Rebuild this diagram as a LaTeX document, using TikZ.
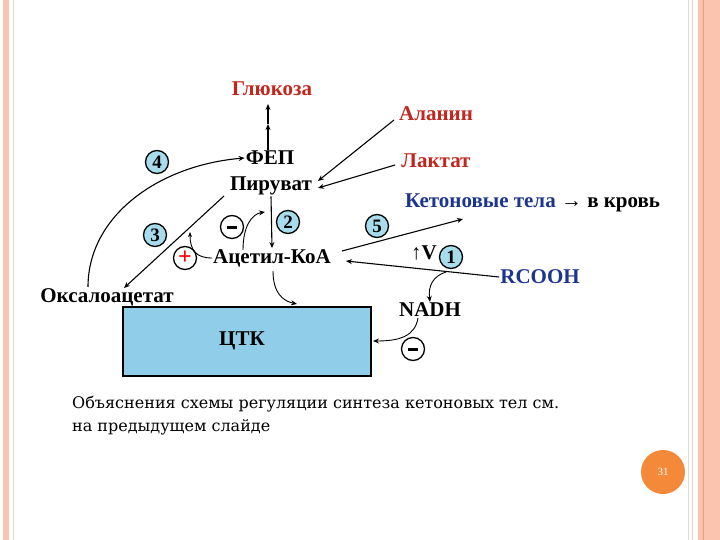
\documentclass[tikz,border=0pt]{standalone}
\usepackage{fontspec}
\setmainfont{Liberation Serif}
\newfontfamily\capfont{DejaVu Serif}
\usetikzlibrary{arrows.meta}
\definecolor{redtxt}{HTML}{C3261C}
\definecolor{bluetxt}{HTML}{1C3690}
\definecolor{numfill}{HTML}{A6DCEB}
\definecolor{boxfill}{HTML}{8FCDE8}
\definecolor{salmon}{HTML}{FBC4AE}
\definecolor{salmondark}{HTML}{F29C7E}
\definecolor{pagenum}{HTML}{F5893A}
\definecolor{thinline}{HTML}{E8D6C8}
\begin{document}
\begin{tikzpicture}[x=1pt,y=-1pt,
  lbl/.style={font=\bfseries\fontsize{21}{21}\selectfont, inner sep=1pt},
  num/.style={circle, draw, line width=1.3pt, fill=numfill, minimum size=23pt, inner sep=0pt, font=\bfseries\fontsize{19}{19}\selectfont},
  sgn/.style={circle, draw, line width=1.3pt, fill=white, minimum size=23pt, inner sep=0pt},
  arr/.style={-{Stealth[length=6pt,width=5pt]}, line width=1.1pt},
  capt/.style={anchor=west, inner sep=0pt, font=\capfont\fontsize{16}{16}\selectfont}
]
\useasboundingbox (0,0) rectangle (720,540);
\fill[white] (0,0) rectangle (720,540);
% borders
\fill[salmon] (3,0) rectangle (9,540);
\draw[thinline, line width=0.8pt] (13.5,0) -- (13.5,540);
\draw[thinline, line width=0.8pt] (688,0) -- (688,540);
\draw[thinline, line width=0.8pt] (692,0) -- (692,540);
\fill[salmon] (698,0) rectangle (720,540);
\draw[salmondark, line width=1pt] (703,0) -- (703,540);

% nodes
\node[lbl, text=redtxt] (glu) at (272,89) {Глюкоза};
\node[lbl, text=redtxt] (ala) at (436,114) {Аланин};
\node[lbl] (fep) at (270,158) {ФЕП};
\node[lbl, text=redtxt] (lak) at (436,161) {Лактат};
\node[lbl] (pir) at (271,186) {Пируват};
\node[lbl, anchor=west] (ket) at (404,203) {\textcolor{bluetxt}{Кетоновые тела} → в кровь};
\node[lbl] (acetyl) at (272,258) {Ацетил-КоА};
\node[lbl, text=bluetxt] (rcooh) at (540,277) {RCOOH};
\node[lbl] (oxa) at (107,297) {Оксалоацетат};
\node[lbl] (nadh) at (430,310) {NADH};
\node[draw, line width=2pt, fill=boxfill, minimum width=248pt, minimum height=69pt, anchor=north west, inner sep=0pt] (tca) at (122,306) {};
\node[lbl] (tcat) at (242,341) {ЦТК};

\node[num] (n4) at (157,162) {4};
\node[num] (n3) at (155,235) {3};
\node[sgn] (m1) at (232,227) {\rule{10pt}{3pt}};
\node[num] (n2) at (288,222) {2};
\node[num] (n5) at (377,226) {5};
\node[lbl] (upv) at (424,253) {↑V};
\node[num] (n1) at (451,257) {1};
\node[sgn] (p1) at (185,258) {\textcolor{red}{\bfseries\fontsize{24}{24}\selectfont +}};
\node[sgn] (m2) at (413,349) {\rule{10pt}{3pt}};

% helper coordinates
\coordinate (gmid) at (268,124);
\coordinate (gtop) at (268,104);
\coordinate (o4) at (88,287);
\coordinate (p3) at (224,196);
\coordinate (o3) at (124,288);
\coordinate (on3) at (190,232);
\coordinate (mstart) at (243,250);
\coordinate (mend) at (265,212);
\coordinate (ala1) at (394,120);
\coordinate (pirA) at (318,181);
\coordinate (lak1) at (395,165);
\coordinate (pirL) at (318,188);
\coordinate (a5) at (342,251);
\coordinate (k5) at (463,219);
\coordinate (a1) at (346,261);
\coordinate (br) at (446,272);
\coordinate (a6) at (273,271);
\coordinate (t6) at (297,304);
\coordinate (nd) at (418,318);
\coordinate (te) at (373,341);

% connectors
\draw[arr] (fep.north -| gmid) -- (gmid);
\draw[arr] (gmid) -- (gtop);
\draw[arr] (o4) .. controls (88,215) and (160,165) .. (fep.west);
\draw[arr] (p3) -- (o3);
\draw[arr, line width=0.9pt, -{Stealth[length=5pt,width=4pt]}] (acetyl.west) .. controls (196,258) and (190,250) .. (on3);
\draw[arr] (pir.south) -- (acetyl.north);
\draw[arr, line width=0.9pt] (mstart) .. controls (243,226) and (252,214) .. (mend);
\draw[arr] (ala1) -- (pirA);
\draw[arr] (lak1) -- (pirL);
\draw[arr] (a5) -- (k5);
\draw[arr] (rcooh.west) -- (a1);
\draw[arr, line width=0.9pt] (br) .. controls (433,276) and (428,286) .. (nadh.north);
\draw[arr, line width=0.9pt] (a6) .. controls (273,293) and (283,301) .. (t6);
\draw[arr, line width=0.9pt] (nd) .. controls (415,336) and (400,341) .. (te);

% caption
\node[capt] (cap1) at (72,404) {Объяснения схемы регуляции синтеза кетоновых тел см.};
\node[capt] (cap2) at (72,427) {на предыдущем слайде};

% page number
\node[circle, fill=pagenum, minimum size=44pt, inner sep=0pt, text=white, font=\fontsize{11}{11}\selectfont] (pg) at (663,472) {31};
\end{tikzpicture}
\end{document}
